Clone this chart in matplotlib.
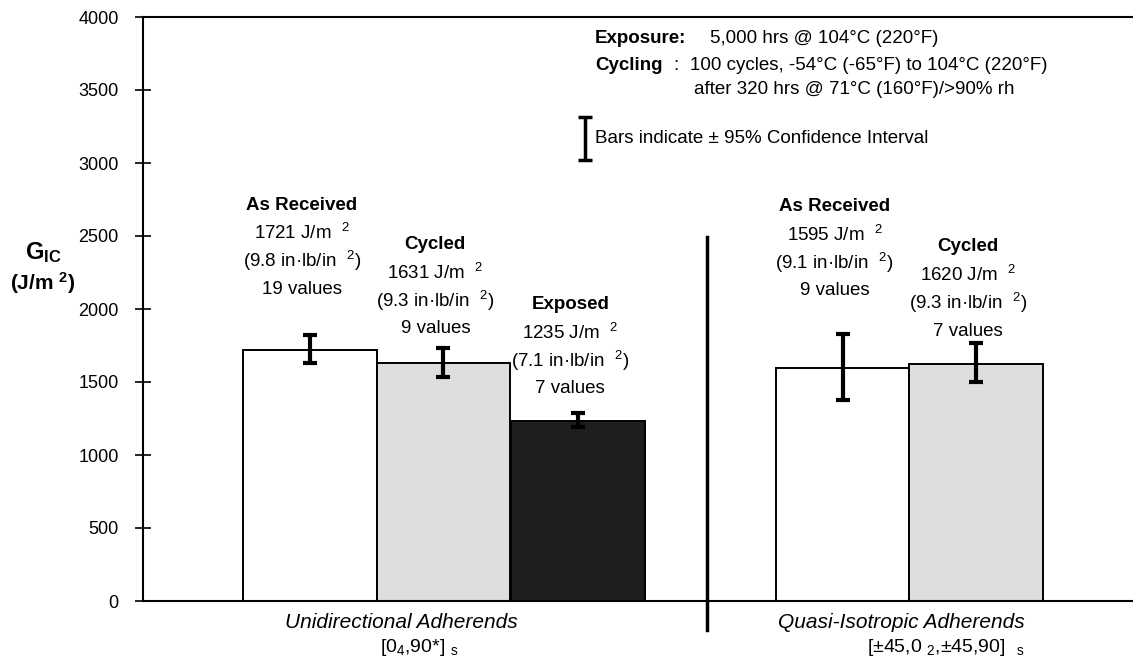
import matplotlib
matplotlib.use("Agg")
import matplotlib.pyplot as plt

plt.rcParams['font.family'] = ['Liberation Sans', 'DejaVu Sans']
plt.rcParams['mathtext.fontset'] = 'custom'
plt.rcParams['mathtext.rm'] = 'Liberation Sans'
plt.rcParams['mathtext.it'] = 'Liberation Sans:italic'
plt.rcParams['mathtext.bf'] = 'Liberation Sans:bold'

# data
groups = ["Unidirectional Adherends", "Quasi-Isotropic Adherends"]
layups = [r"[0$_{4}$,90*] $_{\rm s}$", r"[±45,0 $_{2}$,±45,90]  $_{\rm s}$"]
conditions = ["As Received", "Cycled", "Exposed", "As Received", "Cycled"]
gic = [1721, 1631, 1235, 1595, 1620]          # J/m^2
gic_inlb = [9.8, 9.3, 7.1, 9.1, 9.3]          # in-lb/in^2
n_values = [19, 9, 7, 9, 7]
ci_center = [1726, 1632, 1240, 1603, 1633]
ci_half = [96, 100, 48, 226, 133]

# layout
bar_x = [1.25, 2.25, 3.26, 5.24, 6.24]
bar_colors = ["white", "#dedede", "#1e1e1e", "white", "#dedede"]
label_dx = -0.06
label_y = [2712, 2440, 2030, 2700, 2425]
line_step = 192
divider_x = 4.225
group_x = [1.933, 5.68]
layup_x = [2.07, 6.01]

fig = plt.figure(figsize=(11.33, 6.63), dpi=100)
ax = fig.add_axes([143 / 1133, 62 / 663, 990 / 1133, 584 / 663])

ax.bar(bar_x, gic, width=1.0, color=bar_colors, edgecolor="black",
       linewidth=1.4, zorder=2)
ax.errorbar(bar_x, ci_center, yerr=ci_half, fmt="none", ecolor="black",
            elinewidth=3, capsize=5, capthick=3, zorder=3)

fs = 13.5
for i, x in enumerate(bar_x):
    y = label_y[i]
    ax.text(x + label_dx, y, conditions[i], ha="center", va="center",
            fontsize=fs, fontweight="bold")
    ax.text(x + label_dx, y - line_step, f"{gic[i]} J/m  $^{{2}}$",
            ha="center", va="center", fontsize=fs)
    ax.text(x + label_dx, y - 2 * line_step,
            f"({gic_inlb[i]} in·lb/in  $^{{2}}$)",
            ha="center", va="center", fontsize=fs)
    ax.text(x + label_dx, y - 3 * line_step, f"{n_values[i]} values",
            ha="center", va="center", fontsize=fs)

# divider between the two adherend groups
ax.plot([divider_x, divider_x], [2490, -200], color="black", lw=2.5,
        clip_on=False, zorder=4)

for gx, lx, g, lay in zip(group_x, layup_x, groups, layups):
    ax.text(gx, -145, g, ha="center", va="center", fontsize=15,
            style="italic")
    ax.text(lx, -320, lay, ha="center", va="center", fontsize=14)

# notes at top right
nfs = 13.5
ax.text(3.385, 3856, "Exposure:", fontsize=nfs, fontweight="bold", va="center")
ax.text(4.25, 3856, "5,000 hrs @ 104°C (220°F)", fontsize=nfs, va="center")
ax.text(3.385, 3671, "Cycling", fontsize=nfs, fontweight="bold", va="center")
ax.text(3.97, 3671, ":", fontsize=nfs, va="center")
ax.text(4.1, 3671, "100 cycles, -54°C (-65°F) to 104°C (220°F)",
        fontsize=nfs, va="center")
ax.text(4.13, 3500, "after 320 hrs @ 71°C (160°F)/>90% rh",
        fontsize=nfs, va="center")
ax.errorbar([3.31], [3168], yerr=[148], fmt="none", ecolor="black",
            elinewidth=2.5, capsize=5, capthick=2.5)
ax.text(3.385, 3171, "Bars indicate ± 95% Confidence Interval",
        fontsize=nfs, va="center")

ax.set_xlim(0, 990 / 133.5)
ax.set_ylim(0, 4000)
ax.set_yticks(range(0, 4001, 500))
ax.set_xticks([])
ax.tick_params(axis="y", direction="inout", length=11, width=1.2,
               labelsize=13, pad=12)
ax.spines["right"].set_visible(False)
for s in ["left", "top", "bottom"]:
    ax.spines[s].set_linewidth(1.5)

fig.text(43 / 1133, 1 - 253 / 663, r"$\mathbf{G}_{\mathbf{IC}}$",
         ha="center", va="center", fontsize=17)
fig.text(43 / 1133, 1 - 283 / 663, r"(J/m $^{\mathbf{2}}$)",
         ha="center", va="center", fontsize=15, fontweight="bold")

fig.savefig("out.png", dpi=100)
